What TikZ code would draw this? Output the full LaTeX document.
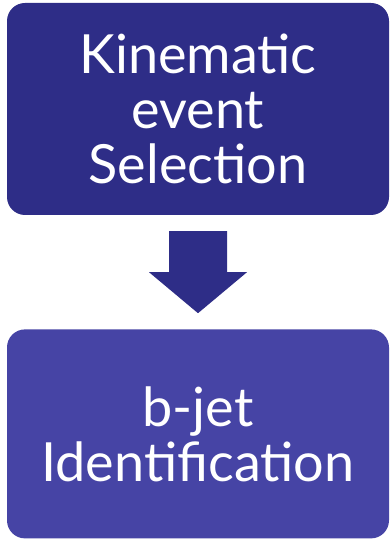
\documentclass[tikz,border=0pt]{standalone}
\usepackage{fontspec}
\setmainfont{Lato}
\usetikzlibrary{positioning, calc}
\definecolor{stagedark}{RGB}{46,45,135}
\definecolor{stagelight}{RGB}{70,68,165}
\tikzset{stage/.style={rounded corners=18pt, text=white, minimum width=382pt, inner sep=0pt,
    align=center, font=\fontsize{54}{55}\selectfont}}

\begin{document}
\begin{tikzpicture}[x=1pt, y=1pt]
  \useasboundingbox (0,0) rectangle (390,540);

  % Etape 1 : selection cinematique
  \node[stage, fill=stagedark, minimum height=212pt] (kin) at (198,431) {Kinematic\\event\\Selection};

  % Etape 2 : identification des jets b
  \node[stage, fill=stagelight, minimum height=209pt, below=114pt of kin] (btag) {b-jet\\Identification};

  % Grosse fleche entre les deux etapes
  \coordinate (tail) at ($(kin.south)+(0,-16)$);
  \coordinate (tip) at ($(btag.north)+(0,16)$);
  \fill[stagedark] ($(tail)+(-29,0)$) -- ($(tail)+(29,0)$) -- ($(tail)+(29,-41)$) -- ($(tail)+(49,-41)$)
    -- (tip) -- ($(tail)+(-49,-41)$) -- ($(tail)+(-29,-41)$) -- cycle;
\end{tikzpicture}
\end{document}
